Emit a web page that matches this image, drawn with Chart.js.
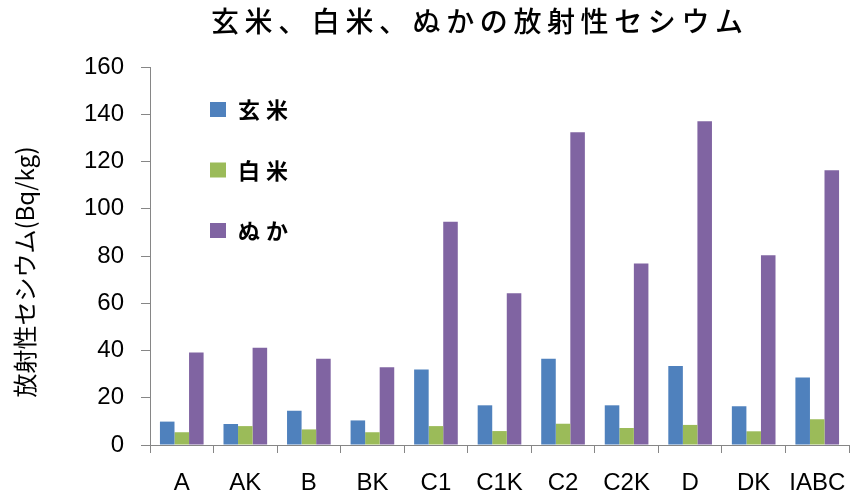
<!DOCTYPE html>
<html>
<head>
<meta charset="utf-8">
<script src="https://cdn.jsdelivr.net/npm/chart.js@4"></script>
<style>
html,body{margin:0;padding:0;background:#fff;}
#wrap{width:850px;height:496px;position:relative;}
</style>
</head>
<body>
<div id="wrap"><canvas id="c" width="850" height="496"></canvas></div>
<script>
const chartTitle = "玄米、白米、ぬかの放射性セシウム";
const yAxisTitle = "放射性セシウム(Bq/kg)";
const categories = ["A", "AK", "B", "BK", "C1", "C1K", "C2", "C2K", "D", "DK", "IABC"];
const seriesNames = ["玄米", "白米", "ぬか"];
const genmai = [9.9, 8.9, 14.5, 10.4, 32.0, 16.8, 36.5, 16.8, 33.4, 16.4, 28.6];
const hakumai = [5.4, 8.0, 6.6, 5.4, 8.0, 5.9, 9.0, 7.2, 8.5, 5.8, 10.9];
const nuka = [39.2, 41.2, 36.5, 32.9, 94.5, 64.2, 132.4, 76.8, 137.0, 80.3, 116.3];
const yMin = 0, yMax = 160, yStep = 20;
const colors = ["#4F81BD", "#9BBB59", "#8064A2"];

const titlePlugin = {
  id: 'customTitle',
  afterDraw(chart) {
    const ctx = chart.ctx;
    ctx.save();
    ctx.font = '500 28px "Noto Sans CJK JP"';
    ctx.fillStyle = '#000';
    ctx.textBaseline = 'middle';
    ctx.textAlign = 'left';
    ctx.letterSpacing = '5.6px';
    ctx.fillText(chartTitle, 211, 21);
    ctx.restore();

    // vertical axis title
    ctx.save();
    ctx.translate(25, 272);
    ctx.rotate(-Math.PI / 2);
    ctx.font = '24px "Noto Sans CJK JP"';
    ctx.fillStyle = '#000';
    ctx.textBaseline = 'middle';
    ctx.textAlign = 'center';
    ctx.fillText(yAxisTitle, 0, 0, 260);
    ctx.restore();
  }
};

const legendPlugin = {
  id: 'customLegend',
  afterDraw(chart) {
    const ctx = chart.ctx;
    ctx.save();
    ctx.font = 'bold 22px "Noto Sans CJK JP"';
    ctx.textBaseline = 'middle';
    ctx.textAlign = 'left';
    ctx.letterSpacing = '6px';
    chart.data.datasets.forEach((ds, i) => {
      const cy = 109 + i * 60.5;
      ctx.fillStyle = ds.backgroundColor;
      ctx.fillRect(210, cy - 7, 16, 15);
      ctx.fillStyle = '#000';
      ctx.fillText(ds.label, 238, cy + 1);
    });
    ctx.restore();
  }
};

new Chart(document.getElementById('c'), {
  type: 'bar',
  data: {
    labels: categories,
    datasets: [
      { label: seriesNames[0], data: genmai, backgroundColor: colors[0] },
      { label: seriesNames[1], data: hakumai, backgroundColor: colors[1] },
      { label: seriesNames[2], data: nuka, backgroundColor: colors[2] }
    ]
  },
  options: {
    responsive: false,
    animation: false,
    devicePixelRatio: 1,
    layout: { padding: { top: 67, right: 1, left: 0, bottom: 0 } },
    datasets: { bar: { categoryPercentage: 0.687, barPercentage: 1.0 } },
    plugins: {
      legend: { display: false },
      title: { display: false },
      tooltip: { enabled: false }
    },
    scales: {
      x: {
        offset: true,
        grid: {
          offset: true,
          drawOnChartArea: false,
          drawTicks: true,
          tickLength: 8,
          color: '#868686'
        },
        border: { color: '#868686', width: 1 },
        ticks: {
          color: '#000',
          font: { family: '"Liberation Sans", Arial', size: 24 },
          padding: 16,
          maxRotation: 0,
          autoSkip: false
        },
        afterFit(scale) {
          scale.height = 51;
          scale.paddingLeft = 0;
          scale.paddingRight = 0;
        }
      },
      y: {
        min: yMin,
        max: yMax,
        grid: {
          drawOnChartArea: false,
          drawTicks: true,
          tickLength: 9,
          color: '#868686'
        },
        border: { color: '#868686', width: 1 },
        ticks: {
          stepSize: yStep,
          color: '#000',
          font: { family: '"Liberation Sans", Arial', size: 24 },
          padding: 17
        },
        title: { display: false },
        afterFit(scale) { scale.width = 150; }
      }
    }
  },
  plugins: [titlePlugin, legendPlugin]
});
</script>
</body>
</html>
